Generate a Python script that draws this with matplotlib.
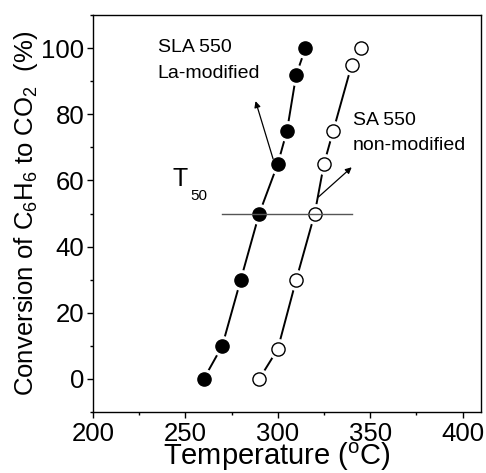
import numpy as np
import matplotlib
matplotlib.use('Agg')
import matplotlib.pyplot as plt
from matplotlib.ticker import MultipleLocator

plt.rcParams['font.family'] = ['Liberation Sans', 'DejaVu Sans']
plt.rcParams['mathtext.fontset'] = 'custom'
plt.rcParams['mathtext.rm'] = 'Liberation Sans'
plt.rcParams['mathtext.it'] = 'Liberation Sans'

# SLA 550 (La-modified), filled circles
temp_sla = [260, 270, 280, 290, 300, 305, 310, 315]
conv_sla = [0, 10, 30, 50, 65, 75, 92, 100]

# SA 550 (non-modified), open circles
temp_sa = [290, 300, 310, 320, 325, 330, 340, 345]
conv_sa = [0, 9, 30, 50, 65, 75, 95, 100]

t50_level = 50
t50_span = [270, 340]

fig = plt.figure(figsize=(4.86, 4.73), dpi=100)
ax = fig.add_axes([0.191, 0.129, 0.799, 0.839])

for x, y, fc in [(temp_sla, conv_sla, 'black'), (temp_sa, conv_sa, 'white')]:
    ax.plot(x, y, '-', color='black', lw=1.4, zorder=1)
    # white halo so the line stops short of each marker
    ax.plot(x, y, 'o', ms=14, mfc='white', mec='white', zorder=2)
    ax.plot(x, y, 'o', ms=9.5, mfc=fc, mec='black', mew=1.0, zorder=3)

ax.plot(t50_span, [t50_level, t50_level], color='#555555', lw=1.0, zorder=4)

ax.text(247, 60.4, 'T', fontsize=18, ha='center', va='center')
ax.text(252.5, 55.3, '50', fontsize=11, ha='left', va='center')

ax.text(235, 100.3, 'SLA 550', fontsize=14, va='center')
ax.text(235, 92.5, 'La-modified', fontsize=14, va='center')
ax.text(340.5, 78.1, 'SA 550', fontsize=14, va='center')
ax.text(340.5, 70.5, 'non-modified', fontsize=14, va='center')

ax.annotate('', xy=(288, 84), xytext=(297.5, 66.5),
            arrowprops=dict(arrowstyle='-|>', color='black', lw=0.9,
                            mutation_scale=9, shrinkA=0, shrinkB=0))
ax.annotate('', xy=(340, 64), xytext=(322, 55),
            arrowprops=dict(arrowstyle='-|>', color='black', lw=0.9,
                            mutation_scale=9, shrinkA=0, shrinkB=0))

ax.set_xlim(200, 410)
ax.set_ylim(-10, 110)
ax.xaxis.set_major_locator(MultipleLocator(50))
ax.xaxis.set_minor_locator(MultipleLocator(25))
ax.yaxis.set_minor_locator(MultipleLocator(10))
ax.set_yticks([0, 20, 40, 60, 80, 100])
ax.tick_params(which='major', direction='out', length=4, width=1, labelsize=18.5, pad=2)
ax.tick_params(axis='x', which='major', pad=3)
ax.tick_params(which='minor', direction='out', length=2.5, width=1)
for s in ax.spines.values():
    s.set_linewidth(1)

ax.set_xlabel('Temperature ($^{\\mathrm{o}}$C)', fontsize=21, labelpad=-4)
ax.xaxis.label.set_x(0.474)
ax.set_ylabel('Conversion of C$_6$H$_6$ to CO$_2$  (%)', fontsize=18.5, labelpad=1)

fig.savefig('out.png', dpi=100)
